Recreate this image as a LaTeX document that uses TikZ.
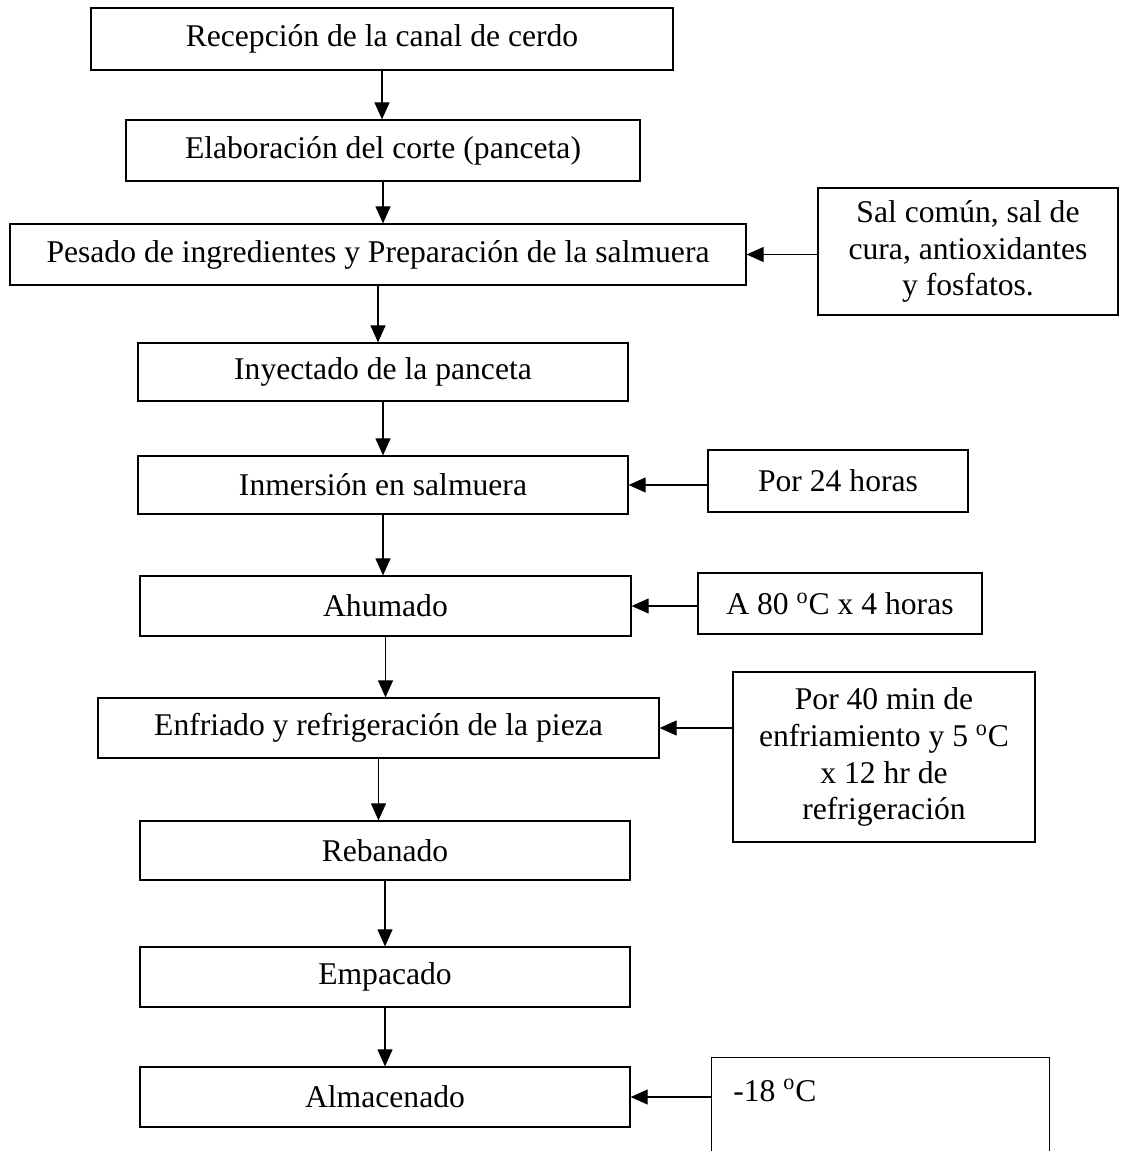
\documentclass[tikz,border=0pt]{standalone}
\usepackage{fontspec}
\setmainfont{Liberation Serif}
\usepackage{tikz}
\usetikzlibrary{arrows.meta}

\tikzset{
	paso/.style={draw, line width=0.7pt, inner sep=2pt, align=center, font=\fontsize{18}{21}\selectfont},
	nota/.style={paso},
	flecha/.style={line width=0.6pt, -{Triangle[length=0.34cm, width=0.3cm]}}
}

\begin{document}
\begin{tikzpicture}[x=0.02cm, y=-0.02cm]
	\useasboundingbox (0,0) rectangle (1127,1151);
	% pasos del proceso
	\foreach \n/\cx/\cy/\w/\h/\txt in {
		1/382/39/582/62/{Recepción de la canal de cerdo},
		2/383/150.5/514/61/{Elaboración del corte (panceta)},
		3/378/254.5/736/61/{Pesado de ingredientes y Preparación de la salmuera},
		4/383/372/490/58/{Inyectado de la panceta},
		5/383/485/490/58/{Inmersión en salmuera},
		6/385.5/606/491/60/{Ahumado},
		7/378.5/728/561/60/{Enfriado y refrigeración de la pieza},
		8/385/850.5/490/59/{Rebanado},
		9/385/977/490/60/{Empacado},
		10/385/1097/490/60/{Almacenado}} {
		\node[paso, minimum width=\w*0.02cm, minimum height=\h*0.02cm] (p\n) at (\cx,\cy) {\txt};
	}
	\foreach \a/\b in {1/2, 2/3, 3/4, 4/5, 5/6, 6/7, 7/8, 8/9, 9/10} {
		\draw[flecha] (p\a.south) -- (p\a.south |- p\b.north);
	}
	% condiciones
	\node[nota, minimum width=300*0.02cm, minimum height=127*0.02cm] (s1) at (968,251.5) {Sal común, sal de\\cura, antioxidantes\\y fosfatos.};
	\node[nota, minimum width=260*0.02cm, minimum height=62*0.02cm] (s2) at (838,481) {Por 24 horas};
	\node[nota, minimum width=284*0.02cm, minimum height=61*0.02cm] (s3) at (840,603.5) {A 80 \textsuperscript{o}C x 4 horas};
	\node[nota, minimum width=302*0.02cm, minimum height=170*0.02cm] (s4) at (884,757) {Por 40 min de\\enfriamiento y 5 \textsuperscript{o}C\\x 12 hr de\\refrigeración};
	\node[minimum width=337*0.02cm, minimum height=93*0.02cm, inner sep=0pt] (s5) at (880.5,1104.5) {};
	\draw[line width=0.7pt] (s5.south west) -- (s5.north west) -- (s5.north east) -- (s5.south east);
	\node[anchor=base west, inner sep=0pt, font=\fontsize{18}{21}\selectfont] (t5) at (733,1101) {-18 \textsuperscript{o}C};
	\draw[flecha] (s1.west |- p3.east) -- (p3.east);
	\draw[flecha] (s2.west |- p5.east) -- (p5.east);
	\draw[flecha] (s3.west |- p6.east) -- (p6.east);
	\draw[flecha] (s4.west |- p7.east) -- (p7.east);
	\draw[flecha] (s5.west |- p10.east) -- (p10.east);
\end{tikzpicture}
\end{document}
